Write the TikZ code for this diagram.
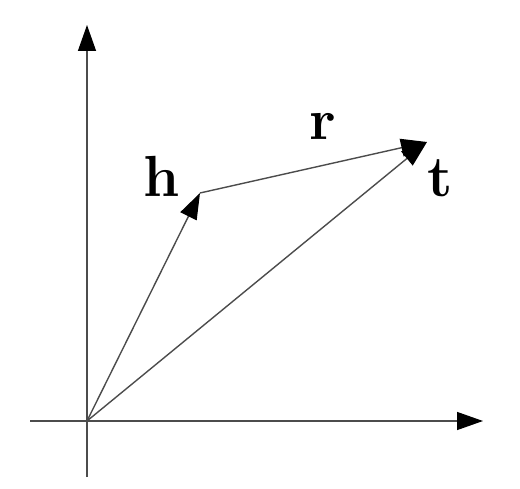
\documentclass[tikz,border=0pt]{standalone}
\usepackage{fontspec}
\usetikzlibrary{arrows.meta}
\tikzset{x=0.5pt,y=0.5pt,
    vec/.style={
        draw=black!70,
        line width=0.7pt,
        -{Triangle[length=13pt,width=9pt,color=black]}},
    axis/.style={
        vec},
    lbl/.style={
        anchor=base,
        inner sep=0pt,
        font=\fontsize{29}{32}\selectfont\bfseries}}

\begin{document}
\begin{tikzpicture}
        \useasboundingbox (0,0) rectangle (520,488);
        \coordinate (o) at (87,67);
        \coordinate (xl) at (30,67);
        \coordinate (xr) at (483,67);
        \coordinate (yb) at (87,11);
        \coordinate (yt) at (87,463);
        \coordinate (h) at (200,295);
        \coordinate (t) at (427,346);

        \node[lbl] (hl) at (162,291) {h};
        \node[lbl] (rl) at (323,348) {r};
        \node[lbl] (tl) at (440,291) {t};

        \draw[axis] (xl) -- (xr);
        \draw[axis] (yb) -- (yt);

        \draw[vec] (o) -- (h);
        \draw[vec] (o) -- (t);
        \draw[vec] (h) -- (t);
    \end{tikzpicture}
\end{document}
